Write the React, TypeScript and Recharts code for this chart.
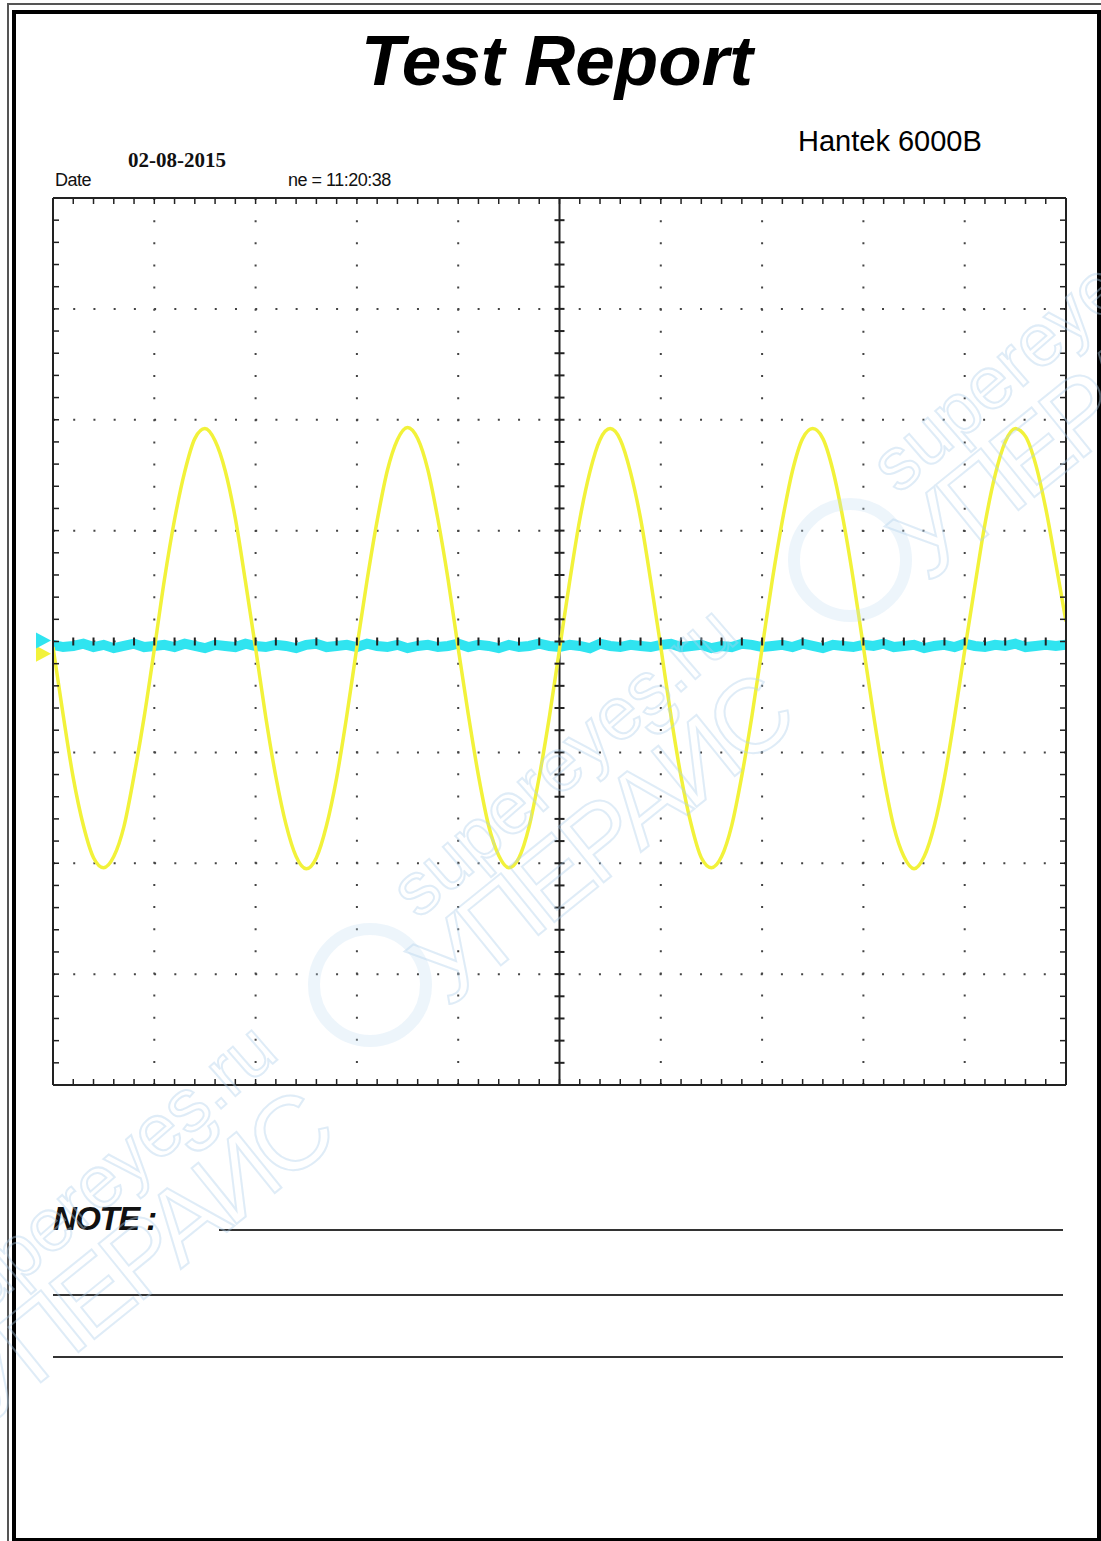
import React from 'react';
import { ComposedChart, Line, Scatter, XAxis, YAxis, ReferenceLine, ReferenceDot } from 'recharts';

const PAGE_W = 1101;
const PAGE_H = 1541;

// scope screen: 10 x 8 divisions
const xDomain = [0, 10];
const yDomain = [-4, 4];
const xDivisions = [1, 2, 3, 4, 6, 7, 8, 9];
const yDivisions = [-3, -2, -1, 0, 1, 2, 3];

// CH1 (yellow), read every 0.1 div, in divisions
const ch1Step = 0.1;
const ch1Values = [
  -0.05, -0.66, -1.23, -1.66, -1.95, -2.04, -1.94, -1.67, -1.21, -0.68,
  -0.07, 0.56, 1.1, 1.53, 1.83, 1.92, 1.81, 1.54, 1.11, 0.54,
  -0.06, -0.68, -1.22, -1.65, -1.94, -2.05, -1.95, -1.66, -1.23, -0.67,
  -0.05, 0.55, 1.09, 1.54, 1.82, 1.93, 1.83, 1.55, 1.1, 0.56,
  -0.06, -0.66, -1.21, -1.66, -1.93, -2.04, -1.95, -1.67, -1.22, -0.68,
  -0.07, 0.54, 1.1, 1.53, 1.82, 1.92, 1.82, 1.53, 1.11, 0.55,
  -0.05, -0.67, -1.22, -1.65, -1.95, -2.04, -1.94, -1.66, -1.21, -0.67,
  -0.06, 0.55, 1.09, 1.54, 1.83, 1.92, 1.83, 1.54, 1.1, 0.56,
  -0.05, -0.66, -1.22, -1.67, -1.94, -2.05, -1.94, -1.66, -1.23, -0.68,
  -0.08, 0.5, 1.06, 1.5, 1.8, 1.92, 1.85, 1.6, 1.2, 0.7,
  0.18,
];

// CH2 (cyan), flat with a bit of noise, read every 0.1 div
const ch2Step = 0.1;
const ch2Values = [
  -0.03, -0.05, -0.04, -0.02, -0.05, -0.03, -0.06, -0.04, -0.02, -0.05,
  -0.04, -0.03, -0.05, -0.02, -0.04, -0.06, -0.03, -0.04, -0.05, -0.02,
  -0.04, -0.05, -0.03, -0.04, -0.06, -0.03, -0.02, -0.05, -0.04, -0.03,
  -0.05, -0.02, -0.04, -0.05, -0.03, -0.06, -0.04, -0.03, -0.05, -0.04,
  -0.02, -0.05, -0.03, -0.04, -0.06, -0.03, -0.05, -0.04, -0.02, -0.04,
  -0.05, -0.03, -0.04, -0.06, -0.02, -0.04, -0.05, -0.03, -0.04, -0.05,
  -0.03, -0.02, -0.05, -0.04, -0.03, -0.06, -0.04, -0.05, -0.02, -0.03,
  -0.05, -0.04, -0.03, -0.05, -0.02, -0.04, -0.06, -0.03, -0.04, -0.05,
  -0.03, -0.04, -0.02, -0.05, -0.04, -0.03, -0.06, -0.04, -0.03, -0.05,
  -0.02, -0.04, -0.05, -0.03, -0.04, -0.02, -0.05, -0.04, -0.03, -0.04,
  -0.03,
];

const ch1Marker = -0.11;
const ch2Marker = 0.01;

const minorX = Array.from({ length: 51 }, (_, i) => +(i * 0.2).toFixed(1));
const minorY = Array.from({ length: 41 }, (_, i) => +(-4 + i * 0.2).toFixed(1));

const ch1Data = ch1Values.map((v, i) => ({ x: +(i * ch1Step).toFixed(2), v }));
const ch2Data = ch2Values.map((v, i) => ({ x: +(i * ch2Step).toFixed(2), v }));
const centerVTicks = minorY.map((y) => ({ x: 5, y }));
const centerHTicks = minorX.map((x) => ({ x, y: 0 }));

const YELLOW = '#f2f23a';
const CYAN = '#30e4f0';
const INK = '#222';

const HTick = (p: any) => (
  <line x1={p.cx - 5} x2={p.cx + 5} y1={p.cy} y2={p.cy} stroke={INK} strokeWidth={2} />
);
const VTick = (p: any) => (
  <line x1={p.cx} x2={p.cx} y1={p.cy - 4} y2={p.cy + 4} stroke={INK} strokeWidth={2} />
);
const marker = (color: string) => (p: any) => (
  <polygon
    points={`${p.cx - 17},${p.cy - 8} ${p.cx - 2},${p.cy} ${p.cx - 17},${p.cy + 8}`}
    fill={color}
  />
);
const noLabel = () => <g />;

const axisCommon = {
  type: 'number' as const,
  mirror: true,
  tick: noLabel,
  tickSize: 6,
  interval: 0 as const,
  allowDataOverflow: true,
  axisLine: { stroke: INK, strokeWidth: 2 },
  tickLine: { stroke: INK, strokeWidth: 1.5 },
};

const sans = '"Liberation Sans", Arial, sans-serif';

function Watermark({ dx, dy }: { dx: number; dy: number }) {
  const outline: React.CSSProperties = {
    position: 'absolute',
    whiteSpace: 'nowrap',
    fontFamily: sans,
    color: 'transparent',
    WebkitTextStroke: '2px rgba(175, 208, 236, 0.4)',
    transformOrigin: 'center center',
  };
  return (
    <div style={{ position: 'absolute', left: dx, top: dy, width: 0, height: 0 }}>
      <div style={{ ...outline, left: 563 - 230, top: 763 - 45, width: 460, textAlign: 'center', fontSize: 74, transform: 'rotate(-41deg)' }}>
        supereyes.ru
      </div>
      <div style={{ ...outline, left: 600 - 260, top: 840 - 60, width: 520, textAlign: 'center', fontSize: 104, letterSpacing: -6, transform: 'rotate(-39deg)' }}>
        УПЕРАЙС
      </div>
      <div
        style={{
          position: 'absolute',
          left: 370 - 62,
          top: 985 - 62,
          width: 100,
          height: 100,
          borderRadius: '50%',
          border: '12px solid rgba(190, 218, 242, 0.28)',
        }}
      />
    </div>
  );
}

export default function App() {
  return (
    <div style={{ position: 'absolute', left: 0, top: 0, width: PAGE_W, height: PAGE_H, background: '#fff', overflow: 'hidden' }}>
      {/* page frame */}
      <div style={{ position: 'absolute', left: 7, top: 3, width: 1200, height: 1600, borderLeft: '2px solid #555', borderTop: '2px solid #555' }} />
      <div style={{ position: 'absolute', left: 12, top: 10, width: 1081, height: 1524, border: '4px solid #000' }} />

      <div style={{ position: 'absolute', left: 361, top: 25, fontFamily: sans, fontSize: 71, lineHeight: '71px', fontWeight: 700, fontStyle: 'italic', color: '#000', whiteSpace: 'nowrap' }}>
        Test Report
      </div>
      <div style={{ position: 'absolute', left: 798, top: 127, fontFamily: sans, fontSize: 29, lineHeight: '29px', color: '#000', whiteSpace: 'nowrap' }}>
        Hantek 6000B
      </div>
      <div style={{ position: 'absolute', left: 55, top: 171, fontFamily: sans, fontSize: 18, lineHeight: '18px', letterSpacing: -0.5, color: '#111', whiteSpace: 'nowrap' }}>
        Date
      </div>
      <div style={{ position: 'absolute', left: 128, top: 150, fontFamily: '"Liberation Serif", serif', fontWeight: 700, fontSize: 21, lineHeight: '21px', color: '#111', whiteSpace: 'nowrap' }}>
        02-08-2015
      </div>
      <div style={{ position: 'absolute', left: 288, top: 171, fontFamily: sans, fontSize: 18, lineHeight: '18px', letterSpacing: -0.5, color: '#111', whiteSpace: 'nowrap' }}>
        ne = 11:20:38
      </div>

      <div style={{ position: 'absolute', left: 0, top: 0 }}>
        <ComposedChart width={PAGE_W} height={PAGE_H} margin={{ top: 198, right: 35, bottom: 456, left: 53 }}>
          <XAxis xAxisId="b" dataKey="x" orientation="bottom" height={1} domain={xDomain} ticks={minorX} {...axisCommon} />
          <XAxis xAxisId="t" dataKey="x" orientation="top" height={1} domain={xDomain} ticks={minorX} {...axisCommon} />
          <YAxis yAxisId="l" orientation="left" width={1} domain={yDomain} ticks={minorY} {...axisCommon} />
          <YAxis yAxisId="r" orientation="right" width={1} domain={yDomain} ticks={minorY} {...axisCommon} />

          {xDivisions.map((d) => (
            <ReferenceLine key={`gx${d}`} xAxisId="b" yAxisId="l" x={d} stroke="#444" strokeWidth={2} strokeDasharray="2 20.125" />
          ))}
          {yDivisions.map((d) => (
            <ReferenceLine key={`gy${d}`} xAxisId="b" yAxisId="l" y={d} stroke="#444" strokeWidth={2} strokeDasharray="2 18.22" />
          ))}
          <ReferenceLine xAxisId="b" yAxisId="l" x={5} stroke={INK} strokeWidth={2} />

          <Scatter xAxisId="b" yAxisId="l" data={centerVTicks} dataKey="y" shape={HTick} isAnimationActive={false} />
          <Scatter xAxisId="b" yAxisId="l" data={centerHTicks} dataKey="y" shape={VTick} isAnimationActive={false} />

          <Line xAxisId="b" yAxisId="l" data={ch2Data} dataKey="v" type="linear" stroke={CYAN} strokeWidth={10} dot={false} activeDot={false} isAnimationActive={false} />
          <Line xAxisId="b" yAxisId="l" data={ch1Data} dataKey="v" type="monotone" stroke={YELLOW} strokeWidth={3.5} dot={false} activeDot={false} isAnimationActive={false} />

          <ReferenceDot xAxisId="b" yAxisId="l" x={0} y={ch1Marker} shape={marker(YELLOW)} ifOverflow="visible" />
          <ReferenceDot xAxisId="b" yAxisId="l" x={0} y={ch2Marker} shape={marker(CYAN)} ifOverflow="visible" />
        </ComposedChart>
      </div>

      <div style={{ position: 'absolute', left: 53, top: 1202, fontFamily: sans, fontSize: 33, lineHeight: '33px', fontWeight: 700, fontStyle: 'italic', letterSpacing: -1.5, color: '#111', whiteSpace: 'nowrap' }}>
        NOTE :
      </div>
      <div style={{ position: 'absolute', left: 219, top: 1229, width: 844, height: 2, background: '#333' }} />
      <div style={{ position: 'absolute', left: 53, top: 1294, width: 1010, height: 2, background: '#333' }} />
      <div style={{ position: 'absolute', left: 53, top: 1356, width: 1010, height: 2, background: '#333' }} />

      <div style={{ position: 'absolute', left: 0, top: 0, pointerEvents: 'none' }}>
        <Watermark dx={0} dy={0} />
        <Watermark dx={480} dy={-425} />
        <Watermark dx={-460} dy={417} />
      </div>
    </div>
  );
}
